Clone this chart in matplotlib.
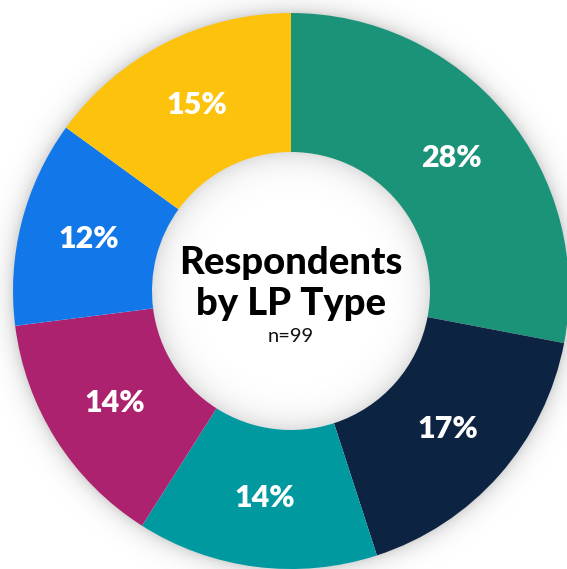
import numpy as np
import matplotlib
matplotlib.use('Agg')
import matplotlib.pyplot as plt

# respondents by LP type (n=99), clockwise from 12 o'clock
lp_types = ['Type A', 'Type B', 'Type C', 'Type D', 'Type E', 'Type F']
shares = [28, 17, 14, 14, 12, 15]
colors = ['#1B9378', '#0C2341', '#0099A0', '#AD226E', '#1278EA', '#FDC20C']

W, H = 567, 569
cx, cy = 291, H - 291
r_out, r_in = 278, 139

fig = plt.figure(figsize=(W / 100, H / 100), dpi=100)
ax = fig.add_axes([0, 0, 1, 1])

# soft drop shadow outside the ring and inner shadow in the hole
xx, yy = np.meshgrid(np.arange(W) + 0.5, np.arange(H) + 0.5)
rr = np.hypot(xx - cx, (H - yy) - cy)
alpha = np.zeros_like(rr)
outer = rr >= r_out - 1
alpha[outer] = 0.16 * np.exp(-(rr[outer] - r_out) / 9.0)
inner = rr <= r_in + 1
alpha[inner] = 0.13 * np.exp(-(r_in - rr[inner]) / 13.0)
shade = np.zeros((H, W, 4))
shade[..., 3] = np.clip(alpha, 0, 1)
ax.imshow(shade, extent=(0, W, 0, H), zorder=0, interpolation='bilinear')

fam = ['Lato', 'DejaVu Sans']
wedges, _, autotexts = ax.pie(
    shares, colors=colors, startangle=90, counterclock=False,
    center=(cx, cy), radius=r_out,
    wedgeprops=dict(width=r_out - r_in, linewidth=0),
    autopct=lambda p: f'{p:.0f}%', pctdistance=0.75,
    textprops=dict(color='white', fontsize=22, fontweight='heavy', family=fam),
)
for w in wedges:
    w.set_zorder(2)
for t in autotexts:
    t.set_zorder(3)

ax.text(cx, H - 263, 'Respondents', ha='center', va='center', fontsize=27.5,
        fontweight='black', family=fam, color='black')
ax.text(cx, H - 304, 'by LP Type', ha='center', va='center', fontsize=27.5,
        fontweight='black', family=fam, color='black')
ax.text(cx, H - 337, 'n=99', ha='center', va='center', fontsize=14.5,
        fontweight='normal', family=fam, color='#111111')

ax.set_xlim(0, W)
ax.set_ylim(0, H)
ax.set_aspect('equal')
ax.axis('off')

fig.savefig('out.png', dpi=100, facecolor='white')
